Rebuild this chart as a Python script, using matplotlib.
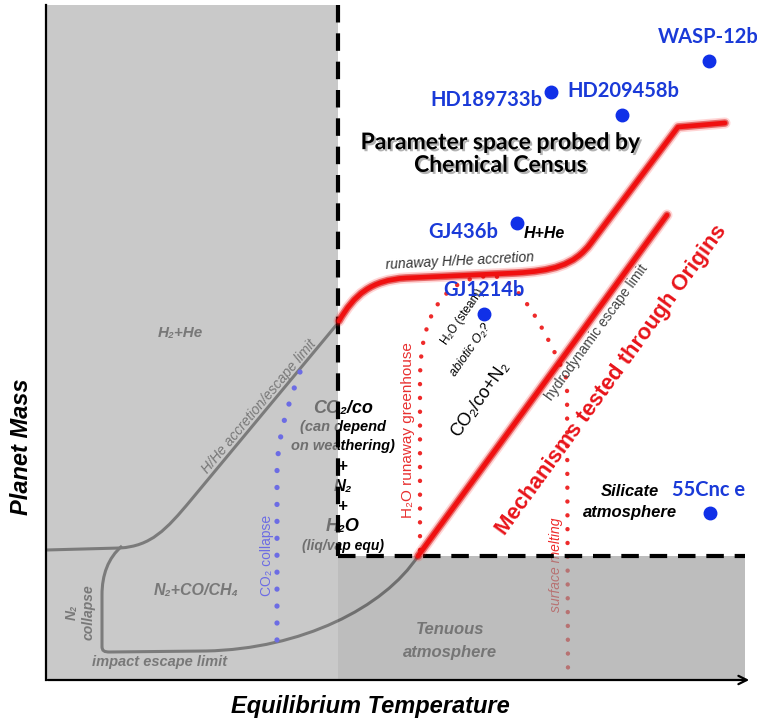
import matplotlib
matplotlib.use('Agg')
import matplotlib.pyplot as plt
from matplotlib.path import Path
from matplotlib.patches import PathPatch, Rectangle
import matplotlib.patheffects as pe

plt.rcParams['font.family'] = ['Liberation Sans', 'DejaVu Sans']
calib = ['Lato', 'DejaVu Sans']

# planets: (temperature, mass) in diagram units
planet_names = ['HD189733b', 'HD209458b', 'WASP-12b', 'GJ436b', 'GJ1214b', '55Cnc e']
planet_temp = [505, 576, 663, 471, 438, 664]
planet_mass = [588, 565, 619, 457, 366, 167]
label_pos = [(440, 580), (577, 589), (662, 643), (417, 448), (438, 390), (663, 190)]

# diagram extent and region boundaries
t_max, m_max = 706, 675
t_cold, m_low, t_edge = 292, 124, 699

# curves, as path vertices
red_accretion = [('M', (293, 359)), ('C', (308, 385), (325, 400), (360, 402)),
                 ('L', (470, 407)), ('C', (505, 409), (528, 414), (545, 437)),
                 ('L', (632, 553)), ('L', (679, 557))]
red_hydro = [('M', (372, 124)), ('L', (621, 465))]
gray_hhe = [('M', (0, 130)), ('L', (74, 132)), ('C', (105, 134), (120, 150), (145, 180)),
            ('L', (292, 357))]
gray_impact = [('M', (76, 134)), ('C', (62, 122), (56, 105), (56, 85)), ('L', (56, 34)),
               ('C', (56, 29), (58, 28), (64, 28)), ('L', (160, 29)),
               ('C', (255, 31), (338, 72), (372, 124))]
blue_co2 = [('M', (254, 308)), ('C', (240, 270), (231, 240), (231, 205)), ('L', (231, 38))]
red_greenhouse = [('M', (374, 130)), ('L', (374, 300)), ('C', (374, 360), (395, 404), (446, 404)),
                  ('C', (470, 404), (500, 350), (521, 300)), ('L', (522, 0))]


def mkpath(segs):
    verts, codes = [], []
    for s in segs:
        if s[0] == 'M':
            verts.append(s[1]); codes.append(Path.MOVETO)
        elif s[0] == 'L':
            verts.append(s[1]); codes.append(Path.LINETO)
        else:
            verts += list(s[1:]); codes += [Path.CURVE4] * 3
    return Path(verts, codes)


fig = plt.figure(figsize=(7.57, 7.21), dpi=100)
ax = fig.add_axes([0, 0, 1, 1])
ax.set_xlim(-46, 711)
ax.set_ylim(-41, 680)
ax.axis('off')

# thin gray boundaries (under the gray overlay)
for segs in [gray_hhe, gray_impact]:
    ax.add_patch(PathPatch(mkpath(segs), fill=False, color='#222222', lw=2.2, zorder=1))
ax.add_patch(PathPatch(mkpath(blue_co2), fill=False, color='#6c6ce4', lw=3.8,
                       linestyle=(0, (0.01, 3.2)), capstyle='round', zorder=4))
ax.add_patch(PathPatch(mkpath(red_greenhouse), fill=False, color='#ee2a2a', lw=3.2,
                       linestyle=(0, (0.01, 3.1)), capstyle='round', zorder=1))

gi = dict(style='italic', weight='bold', ha='center', va='center', zorder=2)
ax.text(134, 347, 'H₂+He', color='#1a1a1a', fontsize=11, **gi)
ax.text(213, 273, 'H/He accretion/escape limit', color='#1a1a1a', fontsize=10,
        rotation=50, style='italic', ha='center', va='center', zorder=2)
ax.text(150, 90, 'N₂+CO/CH₄', color='#1a1a1a', fontsize=11.5, **gi)
ax.text(26, 68, 'N₂', color='#1a1a1a', fontsize=10, rotation=90, **gi)
ax.text(43, 68, 'collapse', color='#1a1a1a', fontsize=10, rotation=90, **gi)
ax.text(114, 18, 'impact escape limit', color='#1a1a1a', fontsize=10.5, **gi)
ax.text(221, 125, 'CO₂ collapse', color='#6c6ce4', fontsize=10, rotation=90,
        ha='center', va='center', zorder=4)
ax.text(404, 50, 'Tenuous', color='#333333', fontsize=12, **gi)
ax.text(404, 28, 'atmosphere', color='#333333', fontsize=12, **gi)
ax.text(510, 115, 'surface melting', color='#ee2a2a', fontsize=10, rotation=90,
        style='italic', ha='center', va='center', zorder=2)

# weathering column straddling the boundary
co_lines = ['CO₂/co', '(can depend', 'on weathering)', '+', 'N₂', '+', 'H₂O', '(liq/vap equ)']
co_y = [272, 253, 234, 214, 193, 173, 153, 134]
co_fs = [13, 10.5, 10.5, 12, 12, 12, 13, 10]
for s, y, f in zip(co_lines, co_y, co_fs):
    ax.text(297, y, s, fontsize=f, color='black', **gi)

# gray overlays
ax.add_patch(Rectangle((0, 0), t_cold, m_max, facecolor='#acacac', alpha=0.65, lw=0, zorder=3))
ax.add_patch(Rectangle((t_cold, 0), t_edge - t_cold, m_low, facecolor='#9a9a9a', alpha=0.65,
                       lw=0, zorder=3))

# dashed limits
dash = dict(color='black', lw=3, dashes=(4.2, 2.6), zorder=5)
ax.plot([t_cold, t_cold], [m_max, m_low], **dash)
ax.plot([t_cold, t_edge], [m_low, m_low], **dash)

# axes
ax.plot([0, 0], [0, m_max], color='black', lw=1.6, zorder=5)
ax.annotate('', xy=(t_max, 0), xytext=(-1, 0),
            arrowprops=dict(arrowstyle='->,head_length=0.6,head_width=0.3', lw=1.6, color='black'),
            zorder=5)
ax.text(-24, 233, 'Planet Mass', rotation=90, fontsize=17, style='italic', weight='bold',
        ha='center', va='center')
ax.text(324, -26, 'Equilibrium Temperature', fontsize=17, style='italic', weight='bold',
        ha='center', va='center')

# red curves with a soft edge
glow = [pe.Stroke(linewidth=8, foreground='#ff3030', alpha=0.2),
        pe.Stroke(linewidth=5.5, foreground='#d00000', alpha=0.5), pe.Normal()]
for segs in [red_accretion, red_hydro]:
    ax.add_patch(PathPatch(mkpath(segs), fill=False, color='#f01010', lw=3.4,
                           capstyle='round', joinstyle='round', zorder=6, path_effects=glow))

# annotations in the warm region
ax.text(362, 250, 'H₂O runaway greenhouse', color='#e83030', fontsize=11, rotation=90,
        ha='center', va='center', zorder=4)
ax.text(417, 363, 'H₂O (steam)', fontsize=8.5, rotation=55, ha='center', va='center', zorder=4)
ax.text(424, 330, 'abiotic O₂?', fontsize=9, rotation=55, style='italic', ha='center',
        va='center', zorder=4)
ax.text(434, 281, 'CO₂/co+N₂', fontsize=13, rotation=55, ha='center', va='center', zorder=4)
ax.text(551, 348, 'hydrodynamic escape limit', color='#444444', fontsize=10, rotation=54,
        ha='center', va='center', zorder=4)
ax.text(566, 300, 'Mechanisms tested through Origins', color='#e8141a', fontsize=16,
        weight='bold', rotation=54, ha='center', va='center', zorder=4)
ax.text(414, 419, 'runaway H/He accretion', color='#333333', fontsize=10, rotation=3,
        style='italic', ha='center', va='center', zorder=4)
ax.text(498, 447, 'H+He', fontsize=11.5, style='italic', weight='bold', ha='center',
        va='center', zorder=4)
ax.text(584, 188, 'Silicate', fontsize=12, style='italic', weight='bold', ha='center',
        va='center', zorder=4)
ax.text(584, 167, 'atmosphere', fontsize=12, style='italic', weight='bold', ha='center',
        va='center', zorder=4)
ax.text(454, 526, 'Parameter space probed by\nChemical Census', family=calib, fontsize=16.5,
        weight='bold', ha='center', va='center', linespacing=1.1, zorder=4,
        path_effects=[pe.withSimplePatchShadow(offset=(1.5, -1.5), shadow_rgbFace='k', alpha=0.3)])

# planets
ax.plot(planet_temp, planet_mass, 'o', color='#1030e8', markersize=9, zorder=7)
for name, (lx, ly) in zip(planet_names, label_pos):
    ax.text(lx, ly, name, family=calib, color='#1a3ad8', fontsize=14.5, weight='bold',
            ha='center', va='center', zorder=7)

fig.savefig('out.png', dpi=100)
